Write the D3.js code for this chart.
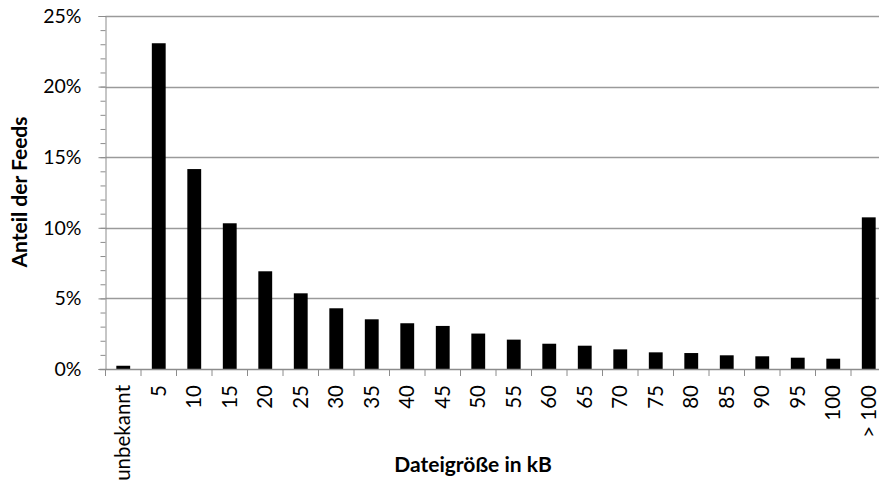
<!DOCTYPE html>
<html><head><meta charset="utf-8">
<script src="https://cdn.jsdelivr.net/npm/d3@7"></script>
<style>
html,body{margin:0;padding:0;background:#fff;overflow:hidden;}
svg{display:block;font-family:Lato,"Open Sans",sans-serif;}
</style></head>
<body><svg id="chart" width="879" height="488"></svg>
<script>
const categories = ["unbekannt","5","10","15","20","25","30","35","40","45","50","55","60","65","70","75","80","85","90","95","100","> 100"];
const shares = [0.0023,0.2307,0.1416,0.1032,0.0692,0.0536,0.0430,0.0352,0.0324,0.0305,0.0251,0.0208,0.0179,0.0165,0.0139,0.0118,0.0113,0.0097,0.0090,0.0080,0.0073,0.1074];
const yTicks = [0,0.05,0.10,0.15,0.20,0.25];
const yMinor = d3.range(0,26).map(d=>d/100);
const xTitle = "Dateigröße in kB";
const yTitle = "Anteil der Feeds";

(function(){
const svg = d3.select("#chart");
const mLeft = 105.5, mRight = 886.5, mTop = 16, mBottom = 369;
const x = d3.scaleBand().domain(categories).range([mLeft,mRight]).paddingInner(0).paddingOuter(0);
const xb = d3.scaleBand().domain(categories).range([mLeft,mRight]).paddingInner(0.61).paddingOuter(0.305);
const y = d3.scaleLinear().domain([0,0.25]).range([mBottom,mTop]);

svg.append("g").selectAll("line").data(yTicks.filter(d=>d>0)).join("line")
  .attr("x1",mLeft).attr("x2",mRight).attr("y1",d=>Math.round(y(d))+0.5).attr("y2",d=>Math.round(y(d))+0.5)
  .attr("stroke","#9a9a9a").attr("stroke-width",1.3);

svg.append("g").attr("transform",`translate(${mLeft},0)`)
  .call(d3.axisLeft(y).tickValues(yMinor).tickSize(5).tickFormat(""))
  .call(g=>{g.select(".domain").remove(); g.selectAll("line").attr("stroke","#8c8c8c");});
svg.append("g").attr("transform",`translate(${mLeft},0)`)
  .call(d3.axisLeft(y).tickValues(yTicks).tickSize(7).tickPadding(17).tickFormat(d3.format(".0%")))
  .call(g=>{g.select(".domain").attr("stroke","#8c8c8c");
    g.selectAll("line").attr("stroke","#8c8c8c");
    g.selectAll("text").attr("font-size",19.5).attr("fill","#000").attr("font-family","Lato");});

svg.append("g").selectAll("rect").data(categories).join("rect")
  .attr("x",d=>xb(d)).attr("width",xb.bandwidth())
  .attr("y",(d,i)=>y(shares[i])).attr("height",(d,i)=>mBottom-y(shares[i]))
  .attr("fill","#000");

const xg = svg.append("g");
xg.append("line").attr("x1",mLeft-6).attr("x2",mRight).attr("y1",mBottom+0.5).attr("y2",mBottom+0.5).attr("stroke","#8c8c8c").attr("stroke-width",1.3);
const bounds = categories.map(c=>x(c)).concat([mRight]);
xg.selectAll("line.tk").data(bounds).join("line").attr("class","tk")
  .attr("x1",d=>d).attr("x2",d=>d).attr("y1",mBottom).attr("y2",mBottom+7).attr("stroke","#8c8c8c");
svg.append("g").selectAll("text").data(categories).join("text")
  .attr("transform",d=>`translate(${x(d)+x.bandwidth()/2},385) rotate(-90)`)
  .attr("text-anchor","end").attr("dy","0.35em")
  .attr("font-size",20.5).attr("font-family","Lato").text(d=>d);

svg.append("text").attr("transform","translate(27,192) rotate(-90)").attr("text-anchor","middle")
  .attr("font-weight","bold").attr("font-size",21).text(yTitle);
svg.append("text").attr("x",473).attr("y",472).attr("text-anchor","middle")
  .attr("font-weight","bold").attr("font-size",21).text(xTitle);
})();
</script></body></html>
